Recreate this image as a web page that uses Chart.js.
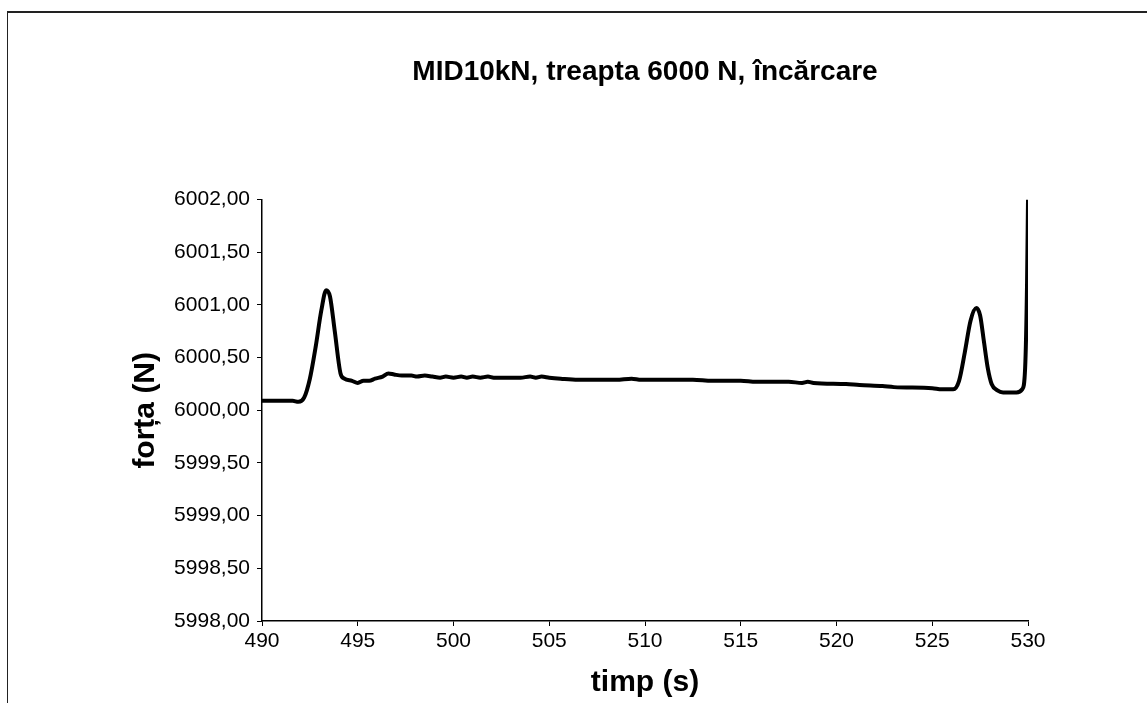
<!DOCTYPE html>
<html>
<head>
<meta charset="utf-8">
<script src="https://cdn.jsdelivr.net/npm/chart.js@4/dist/chart.umd.min.js"></script>
<style>
  html, body { margin: 0; padding: 0; background: #fff; overflow: hidden; }
  #wrap { position: relative; width: 1147px; height: 703px; }
  #frame { position: absolute; left: 7px; top: 11px; width: 1160px; height: 720px;
           border-top: 2px solid #222; border-left: 1px solid #222; }
  canvas { position: absolute; left: 0; top: 0; }
</style>
</head>
<body>
<div id="wrap">
  <div id="frame"></div>
  <canvas id="myChart" width="1147" height="703"></canvas>
</div>
<script>
// timp (s)
var timeValues = [
  490.0, 491.0, 491.6, 491.9, 492.2, 492.5, 492.8, 493.1, 493.35, 493.55,
  493.8, 494.1, 494.3, 494.7, 495.0, 495.3, 495.6, 495.9, 496.3, 496.6,
  496.9, 497.3, 497.8, 498.1, 498.5, 498.9, 499.3, 499.6, 500.0, 500.4,
  500.7, 501.0, 501.4, 501.8, 502.1, 502.5, 503.0, 503.5, 504.0, 504.3,
  504.6, 505.0, 505.6, 506.5, 507.5, 508.5, 509.3, 509.8, 511.0, 512.5,
  513.5, 515.0, 515.8, 517.5, 518.2, 518.5, 518.8, 520.5, 521.2, 522.4,
  523.0, 525.0, 525.5, 526.1, 526.4, 526.7, 527.0, 527.3, 527.5, 527.7,
  527.9, 528.1, 528.4, 528.7, 529.4, 529.7, 529.85, 529.95, 530.0
];
// forta (N)
var forceValues = [
  6000.09, 6000.09, 6000.09, 6000.08, 6000.12, 6000.30, 6000.60, 6000.95, 6001.14, 6001.08,
  6000.75, 6000.35, 6000.30, 6000.28, 6000.26, 6000.28, 6000.28, 6000.30, 6000.32, 6000.35,
  6000.34, 6000.33, 6000.33, 6000.32, 6000.33, 6000.32, 6000.31, 6000.32, 6000.31, 6000.32,
  6000.31, 6000.32, 6000.31, 6000.32, 6000.31, 6000.31, 6000.31, 6000.31, 6000.32, 6000.31,
  6000.32, 6000.31, 6000.30, 6000.29, 6000.29, 6000.29, 6000.30, 6000.29, 6000.29, 6000.29,
  6000.28, 6000.28, 6000.27, 6000.27, 6000.26, 6000.27, 6000.26, 6000.25, 6000.24, 6000.23,
  6000.22, 6000.21, 6000.20, 6000.20, 6000.28, 6000.55, 6000.85, 6000.97, 6000.90, 6000.65,
  6000.40, 6000.25, 6000.19, 6000.17, 6000.17, 6000.20, 6000.40, 6001.20, 6002.00
];
var xTicks = [490, 495, 500, 505, 510, 515, 520, 525, 530];
var yTicks = [5998, 5998.5, 5999, 5999.5, 6000, 6000.5, 6001, 6001.5, 6002];

var points = [];
for (var i = 0; i < timeValues.length; i++) {
  points.push({ x: timeValues[i], y: forceValues[i] });
}

var data = {
  datasets: [{
    label: 'forța',
    data: points,
    borderColor: '#000',
    borderWidth: 4,
    pointRadius: 0,
    fill: false,
    cubicInterpolationMode: 'monotone'
  }]
};

var config = {
  type: 'line',
  data: data,
  options: {
    responsive: false,
    animation: false,
    devicePixelRatio: 1,
    layout: { padding: { left: 0, right: 119, top: 0, bottom: 0 } },
    plugins: {
      legend: { display: false },
      tooltip: { enabled: false },
      title: {
        display: true,
        text: 'MID10kN, treapta 6000 N, încărcare',
        color: '#000',
        fullSize: false,
        font: { family: 'Liberation Sans, Arial, sans-serif', size: 28, weight: 'bold' },
        padding: { top: 55, bottom: 111 }
      }
    },
    scales: {
      x: {
        type: 'linear',
        min: xTicks[0],
        max: xTicks[xTicks.length - 1],
        afterBuildTicks: function (scale) {
          scale.ticks = xTicks.map(function (v) { return { value: v }; });
        },
        afterFit: function (scale) { scale.height = 82; },
        grid: { display: true, drawOnChartArea: false, drawTicks: true, tickLength: 5, color: '#000', lineWidth: 1 },
        border: { display: true, color: '#000', width: 1.5 },
        ticks: {
          color: '#000',
          padding: 3,
          maxRotation: 0,
          font: { family: 'Liberation Sans, Arial, sans-serif', size: 21 }
        },
        title: {
          display: true,
          text: 'timp (s)',
          color: '#000',
          font: { family: 'Liberation Sans, Arial, sans-serif', size: 30, weight: 'bold' },
          padding: { top: 0, bottom: 2 }
        }
      },
      y: {
        min: yTicks[0],
        max: yTicks[yTicks.length - 1],
        afterBuildTicks: function (scale) {
          scale.ticks = yTicks.map(function (v) { return { value: v }; });
        },
        afterFit: function (scale) { scale.width = 262; },
        grid: { display: true, drawOnChartArea: false, drawTicks: true, tickLength: 5, color: '#000', lineWidth: 1 },
        border: { display: true, color: '#000', width: 1.5 },
        ticks: {
          color: '#000',
          padding: 7,
          font: { family: 'Liberation Sans, Arial, sans-serif', size: 21 },
          callback: function (v) { return Number(v).toFixed(2).replace('.', ','); }
        },
        title: {
          display: true,
          text: 'forța (N)',
          color: '#000',
          font: { family: 'Liberation Sans, Arial, sans-serif', size: 30, weight: 'bold' },
          padding: { top: 128, bottom: 0 }
        }
      }
    }
  }
};

var myChart = new Chart(document.getElementById('myChart'), config);
</script>
</body>
</html>
